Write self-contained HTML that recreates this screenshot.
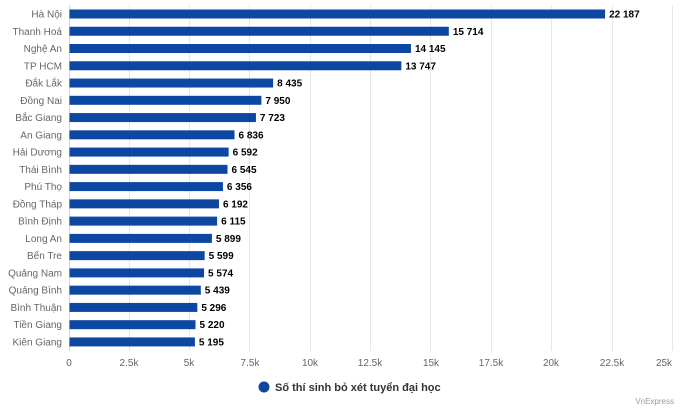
<!DOCTYPE html>
<html><head><meta charset="utf-8"><style>
body{margin:0;background:#fff;width:680px;height:408px;overflow:hidden}
</style></head><body>
<svg width="680" height="408" xmlns="http://www.w3.org/2000/svg" font-family="Liberation Sans, sans-serif">
<g stroke="#e6e6e6" stroke-width="1">
<line x1="189.5" y1="5" x2="189.5" y2="351"/><line x1="310.5" y1="5" x2="310.5" y2="351"/>
<line x1="430.5" y1="5" x2="430.5" y2="351"/><line x1="551.5" y1="5" x2="551.5" y2="351"/>
<line x1="672.5" y1="5" x2="672.5" y2="351"/>
<line x1="129.5" y1="5" x2="129.5" y2="351"/><line x1="249.5" y1="5" x2="249.5" y2="351"/>
<line x1="370.5" y1="5" x2="370.5" y2="351"/><line x1="491.5" y1="5" x2="491.5" y2="351"/>
<line x1="612.5" y1="5" x2="612.5" y2="351"/>
</g>
<line x1="69.5" y1="5" x2="69.5" y2="351" stroke="#ccd6eb"/>
<g id="bars"></g>
<g font-size="10" fill="#666" text-anchor="middle">
<text x="69" y="366">0</text><text x="129" y="366">2.5k</text><text x="189" y="366">5k</text>
<text x="250" y="366">7.5k</text><text x="310" y="366">10k</text><text x="370" y="366">12.5k</text>
<text x="431" y="366">15k</text><text x="491" y="366">17.5k</text><text x="551" y="366">20k</text>
<text x="612" y="366">22.5k</text><text x="664" y="366">25k</text>
</g>
<circle cx="264" cy="387" r="5.5" fill="#0d47a1"/>
<text x="275" y="391" font-size="11" font-weight="bold" fill="#333">Số thí sinh bỏ xét tuyển đại học</text>
<text x="674" y="404" font-size="8" fill="#999" text-anchor="end">VnExpress</text>
</svg>
<script>
var d=[["Hà Nội",22187],["Thanh Hoá",15714],["Nghệ An",14145],["TP HCM",13747],["Đắk Lắk",8435],["Đồng Nai",7950],["Bắc Giang",7723],["An Giang",6836],["Hải Dương",6592],["Thái Bình",6545],["Phú Thọ",6356],["Đồng Tháp",6192],["Bình Định",6115],["Long An",5899],["Bến Tre",5599],["Quảng Nam",5574],["Quảng Bình",5439],["Bình Thuận",5296],["Tiền Giang",5220],["Kiên Giang",5195]];
var g=document.getElementById("bars"),s="";
d.forEach(function(r,i){var y=14+i*17.26,w=r[1]*0.02414;
var v=String(r[1]).replace(/\B(?=(\d{3})+$)/,' ');
s+='<rect x="69.5" y="'+(y-4.5)+'" width="'+w+'" height="9" fill="#0d47a1"/>';
s+='<text x="62" y="'+(y+3.5)+'" font-size="10" fill="#666" text-anchor="end">'+r[0]+'</text>';
s+='<text x="'+(69.5+w+4)+'" y="'+(y+3.5)+'" font-size="10" font-weight="bold" fill="#000">'+v+'</text>';});
g.innerHTML=s;
</script>
</body></html>
